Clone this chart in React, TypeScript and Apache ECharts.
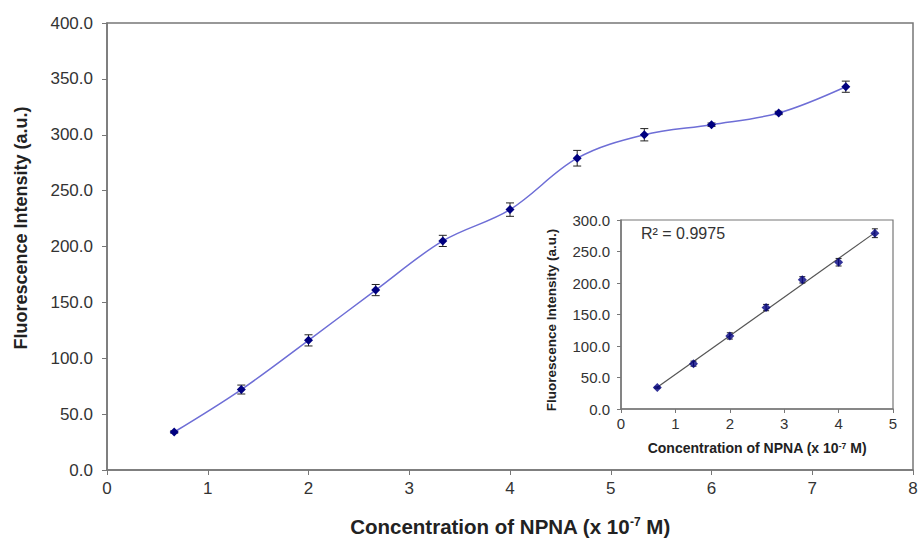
import React, { useEffect, useRef } from "react";
import * as echarts from "echarts";

const concentration = [0.667, 1.333, 2, 2.667, 3.333, 4, 4.667, 5.333, 6, 6.667, 7.333];
const intensity = [34, 72, 116, 161, 205, 233, 279, 300, 309, 319.5, 343];
const errors = [1, 4, 5, 5, 5, 6, 7, 5.5, 1.5, 1.5, 5];

const insetCount = 7;
const insetX = concentration.slice(0, insetCount);
const insetY = intensity.slice(0, insetCount);
const insetErr = errors.slice(0, insetCount);
const r2Text = "R² = 0.9975";
const yTitle = "Fluorescence Intensity (a.u.)";
const xTitle = "{a|Concentration of NPNA (x 10}{s|-7}{a| M)}";

const FONT = "Liberation Sans, Arial, sans-serif";

function regression(xs: number[], ys: number[]) {
  const n = xs.length;
  const mx = xs.reduce((a, b) => a + b, 0) / n;
  const my = ys.reduce((a, b) => a + b, 0) / n;
  let sxy = 0, sxx = 0;
  for (let i = 0; i < n; i++) {
    sxy += (xs[i] - mx) * (ys[i] - my);
    sxx += (xs[i] - mx) ** 2;
  }
  const b = sxy / sxx;
  return { a: my - b * mx, b };
}

function errorBarSeries(xAxisIndex: number, yAxisIndex: number, xs: number[], ys: number[], es: number[], cap: number) {
  return {
    type: "custom",
    xAxisIndex,
    yAxisIndex,
    z: 3,
    silent: true,
    data: xs.map((x, i) => [x, ys[i], es[i]]),
    renderItem: (params: any, api: any) => {
      const x = api.value(0);
      const y = api.value(1);
      const e = api.value(2);
      const lo = api.coord([x, y - e]);
      const hi = api.coord([x, y + e]);
      const style = { stroke: "#222", lineWidth: 1 };
      return {
        type: "group",
        children: [
          { type: "line", shape: { x1: lo[0], y1: lo[1], x2: hi[0], y2: hi[1] }, style },
          { type: "line", shape: { x1: lo[0] - cap, y1: lo[1], x2: lo[0] + cap, y2: lo[1] }, style },
          { type: "line", shape: { x1: hi[0] - cap, y1: hi[1], x2: hi[0] + cap, y2: hi[1] }, style },
        ],
      };
    },
  };
}

export default function App() {
  const ref = useRef<HTMLDivElement>(null);
  useEffect(() => {
    if (!ref.current) return;
    const chart = echarts.init(ref.current, null, { renderer: "svg" });
    const { a, b } = regression(insetX, insetY);
    const x0 = insetX[0];
    const x1 = insetX[insetX.length - 1];
    const axisLine = { lineStyle: { color: "#777", width: 1.5 } };
    const mainLabel = { color: "#333", fontSize: 17, fontFamily: FONT };
    const insetLabel = { color: "#333", fontSize: 15, fontFamily: FONT };
    const option: any = {
      animation: false,
      backgroundColor: "#fff",
      grid: [
        { left: 107, right: 5, top: 23, bottom: 69, show: true, borderColor: "#777", borderWidth: 1.5, outerBoundsMode: "none", containLabel: false },
        { left: 621, right: 25, top: 220, bottom: 130, show: true, borderColor: "#777", borderWidth: 1.2, backgroundColor: "#fff", z: 5, outerBoundsMode: "none", containLabel: false },
      ],
      xAxis: [
        {
          type: "value", gridIndex: 0, min: 0, max: 8, interval: 1,
          axisLine, axisTick: { show: true, length: 5, lineStyle: { color: "#777" } },
          splitLine: { show: false },
          axisLabel: { ...mainLabel, margin: 10 },
          name: xTitle,
          nameLocation: "middle", nameGap: 46,
          nameTextStyle: {
            rich: {
              a: { fontSize: 20.5, fontWeight: "bold", fontFamily: FONT, color: "#222" },
              s: { fontSize: 12, fontWeight: "bold", fontFamily: FONT, color: "#222", verticalAlign: "top" },
            },
          },
        },
        {
          type: "value", gridIndex: 1, min: 0, max: 5, interval: 1, z: 6,
          axisLine, axisTick: { show: true, length: 4, lineStyle: { color: "#777" } },
          splitLine: { show: false },
          axisLabel: { ...insetLabel, margin: 7 },
          name: xTitle,
          nameLocation: "middle", nameGap: 32,
          nameTextStyle: {
            rich: {
              a: { fontSize: 14, fontWeight: "bold", fontFamily: FONT, color: "#222" },
              s: { fontSize: 8.5, fontWeight: "bold", fontFamily: FONT, color: "#222", verticalAlign: "top" },
            },
          },
        },
      ],
      yAxis: [
        {
          type: "value", gridIndex: 0, min: 0, max: 400, interval: 50,
          axisLine: { show: true, ...axisLine }, axisTick: { show: true, length: 5, lineStyle: { color: "#777" } },
          splitLine: { show: false },
          axisLabel: { ...mainLabel, margin: 14, formatter: (v: number) => v.toFixed(1) },
        },
        {
          type: "value", gridIndex: 1, min: 0, max: 300, interval: 50, z: 6,
          axisLine: { show: true, ...axisLine }, axisTick: { show: true, length: 4, lineStyle: { color: "#777" } },
          splitLine: { show: false },
          axisLabel: { ...insetLabel, margin: 11, formatter: (v: number) => v.toFixed(1) },
        },
      ],
      graphic: [
        {
          type: "text", x: 21, y: 228, rotation: Math.PI / 2, z: 20,
          style: { text: yTitle, fontSize: 18, fontWeight: "bold", fontFamily: FONT, fill: "#222", align: "center", verticalAlign: "middle" },
        },
        {
          type: "text", x: 551, y: 320, rotation: Math.PI / 2, z: 20,
          style: { text: yTitle, fontSize: 13.5, fontWeight: "bold", fontFamily: FONT, fill: "#222", align: "center", verticalAlign: "middle" },
        },
        {
          type: "text", left: 641, top: 225, z: 20,
          style: { text: r2Text, fontSize: 16, fontFamily: FONT, fill: "#333" },
        },
      ],
      series: [
        {
          type: "line", xAxisIndex: 0, yAxisIndex: 0, smooth: 0.35,
          data: concentration.map((x, i) => [x, intensity[i]]),
          lineStyle: { color: "#6e6ed6", width: 1.5 },
          symbol: "diamond", symbolSize: 9,
          itemStyle: { color: "#000080" },
          z: 4,
        },
        errorBarSeries(0, 0, concentration, intensity, errors, 4),
        {
          type: "line", xAxisIndex: 1, yAxisIndex: 1,
          data: [[x0, a + b * x0], [x1, a + b * x1]],
          lineStyle: { color: "#555", width: 1.2 },
          symbol: "none", z: 7,
        },
        { ...errorBarSeries(1, 1, insetX, insetY, insetErr, 3), z: 8 },
        {
          type: "scatter", xAxisIndex: 1, yAxisIndex: 1,
          data: insetX.map((x, i) => [x, insetY[i]]),
          symbol: "diamond", symbolSize: 9,
          itemStyle: { color: "#000080" },
          z: 9,
        },
      ],
    };
    chart.setOption(option);
    return () => chart.dispose();
  }, []);
  return <div ref={ref} style={{ width: 918, height: 539, position: "absolute", left: 0, top: 0 }} />;
}
